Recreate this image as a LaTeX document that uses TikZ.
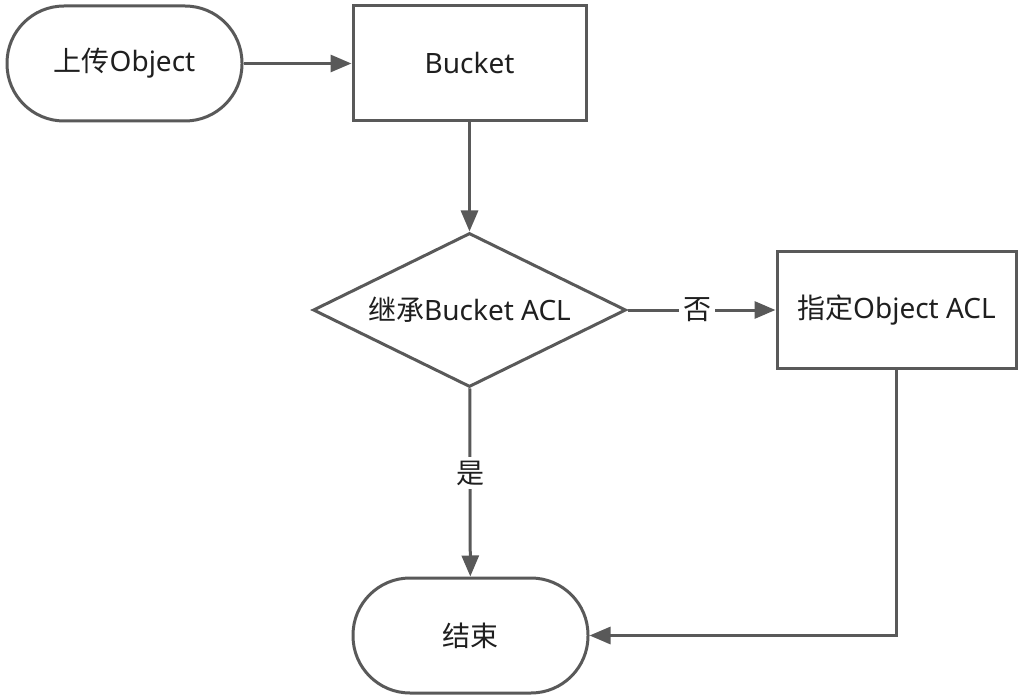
\documentclass[tikz,border=0pt]{standalone}
\usepackage{fontspec}
\setmainfont{Noto Sans}
\newfontfamily\cjk{Noto Sans CJK SC}
\usetikzlibrary{shapes.geometric,arrows.meta}
\definecolor{linec}{HTML}{595959}
\definecolor{textc}{HTML}{1F1F1F}
\tikzset{
  x=1pt, y=-1pt,
  every node/.style={font=\fontsize{28}{32}\selectfont, text=textc, inner sep=0pt},
  base/.style={draw=linec, line width=3pt, fill=white},
  stadium/.style={base, rectangle, rounded corners=57pt, minimum width=235pt, minimum height=115pt},
  boxnode/.style={base, rectangle, minimum height=115pt},
  decision/.style={base, diamond, aspect=2.03, minimum width=313pt, minimum height=154pt},
  conn/.style={draw=linec, line width=3pt, -{Triangle[length=21pt,width=17pt]}},
  lab/.style={fill=white, inner sep=4pt}
}
\begin{document}
\begin{tikzpicture}
\useasboundingbox (0,0) rectangle (1024,700);
\node[stadium] (start) at (124.5,63.5) {{\cjk 上传}Object};
\node[boxnode, minimum width=233pt] (bucket) at (469.5,63.5) {Bucket};
\node[decision] (dec) at (469.5,310) {{\cjk 继承}Bucket ACL};
\node[boxnode, minimum width=239pt, minimum height=116pt] (obj) at (896.5,310) {{\cjk 指定}Object ACL};
\node[stadium] (end) at (470.5,635.5) {\cjk 结束};
\draw[conn] (start) -- (bucket);
\draw[conn] (bucket) -- (dec);
\draw[conn] (dec) -- node[lab, pos=0.47] {\cjk 否} (obj);
\draw[conn] (dec) -- node[lab, pos=0.45] {\cjk 是} (end);
\draw[conn] (obj.south) |- (end.east);
\end{tikzpicture}
\end{document}
